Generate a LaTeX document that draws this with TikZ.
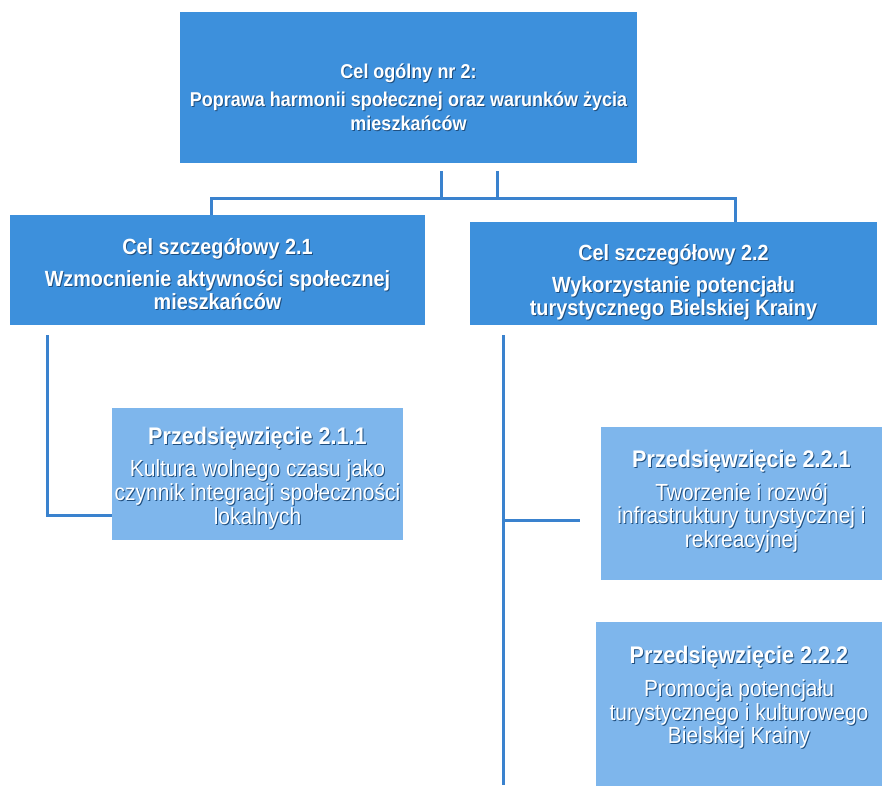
\documentclass[tikz,border=0pt]{standalone}
\usepackage{fontspec}
\setmainfont[FakeStretch=0.9]{Liberation Sans}
\definecolor{topblue}{HTML}{3D90DC}
\definecolor{lowblue}{HTML}{7EB6EC}
\definecolor{linec}{HTML}{3A82CE}
\definecolor{shadowc}{HTML}{1F4F80}
\newcommand\shd[1]{\makebox[0pt][l]{\raisebox{-1pt}{\kern1pt\textcolor{shadowc}{#1}}}#1}
\begin{document}
\begin{tikzpicture}[x=1pt,y=-1pt,
  box/.style={rectangle, inner sep=0pt},
  topbox/.style={box, fill=topblue},
  lowbox/.style={box, fill=lowblue},
  ttxt/.style={text=white, align=center, inner sep=0pt, font=\bfseries\fontsize{20}{24}\selectfont},
  mtxt/.style={text=white, align=center, inner sep=0pt, font=\bfseries\fontsize{22}{23}\selectfont},
  ltxt/.style={text=white, align=center, inner sep=0pt, font=\fontsize{23.3}{22.5}\selectfont},
  conn/.style={draw=linec, line width=3pt}]
\useasboundingbox (0,0) rectangle (882,785);
\node[topbox, minimum width=457pt, minimum height=151pt,
  label={[ttxt, yshift=-10.5pt]center:{\shd{Cel ogólny nr 2:}\\[4pt]\shd{Poprawa harmonii społecznej oraz warunków życia}\\\shd{mieszkańców}}}] (top) at (408.5,87.5) {};
\node[topbox, minimum width=415pt, minimum height=110pt,
  label={[mtxt, yshift=-5pt]center:{\shd{Cel szczegółowy 2.1}\\[9pt]\shd{Wzmocnienie aktywności społecznej}\\\shd{mieszkańców}}}] (c21) at (217.5,270) {};
\node[topbox, minimum width=407pt, minimum height=103pt,
  label={[mtxt, yshift=-9pt]center:{\shd{Cel szczegółowy 2.2}\\[9pt]\shd{Wykorzystanie potencjału}\\\shd{turystycznego Bielskiej Krainy}}}] (c22) at (673.5,273.5) {};
\node[lowbox, minimum width=291pt, minimum height=132pt,
  label={[ltxt, yshift=-4.5pt]center:{\fontsize{24}{22.5}\selectfont\bfseries\shd{Przedsięwzięcie 2.1.1}\\[9pt]\shd{Kultura wolnego czasu jako}\\\shd{czynnik integracji społeczności}\\\shd{lokalnych}}}] (p211) at (257.5,474) {};
\node[lowbox, minimum width=281pt, minimum height=153pt,
  label={[ltxt, yshift=2pt]center:{\fontsize{24}{22.5}\selectfont\bfseries\shd{Przedsięwzięcie 2.2.1}\\[9pt]\shd{Tworzenie i rozwój}\\\shd{infrastruktury turystycznej i}\\\shd{rekreacyjnej}}}] (p221) at (741.5,503.5) {};
\node[lowbox, minimum width=286pt, minimum height=170pt,
  label={[ltxt, yshift=9pt]center:{\fontsize{24}{22.5}\selectfont\bfseries\shd{Przedsięwzięcie 2.2.2}\\[9pt]\shd{Promocja potencjału}\\\shd{turystycznego i kulturowego}\\\shd{Bielskiej Krainy}}}] (p222) at (739,707) {};
% connector points
\coordinate (t1) at (441,171);
\coordinate (t2) at (497,171);
\coordinate (hb) at (441,198);
\coordinate (hb2) at (497,198);
\coordinate (l1) at (211,198);
\coordinate (r1) at (735,198);
\coordinate (lv) at (47,335);
\coordinate (lh) at (47,515);
\coordinate (rv) at (503,335);
\coordinate (rb) at (503,785);
\coordinate (rh) at (503,520);
\coordinate (rhe) at (580,520);
\draw[conn] (t1) -- (hb);
\draw[conn] (t2) -- (hb2);
\draw[conn] (c21.north -| l1) -- (l1) -- (r1) -- (c22.north -| r1);
\draw[conn] (lv) -- (lh) -- (p211.west |- lh);
\draw[conn] (rv) -- (rb);
\draw[conn] (rh) -- (rhe);
\end{tikzpicture}
\end{document}
